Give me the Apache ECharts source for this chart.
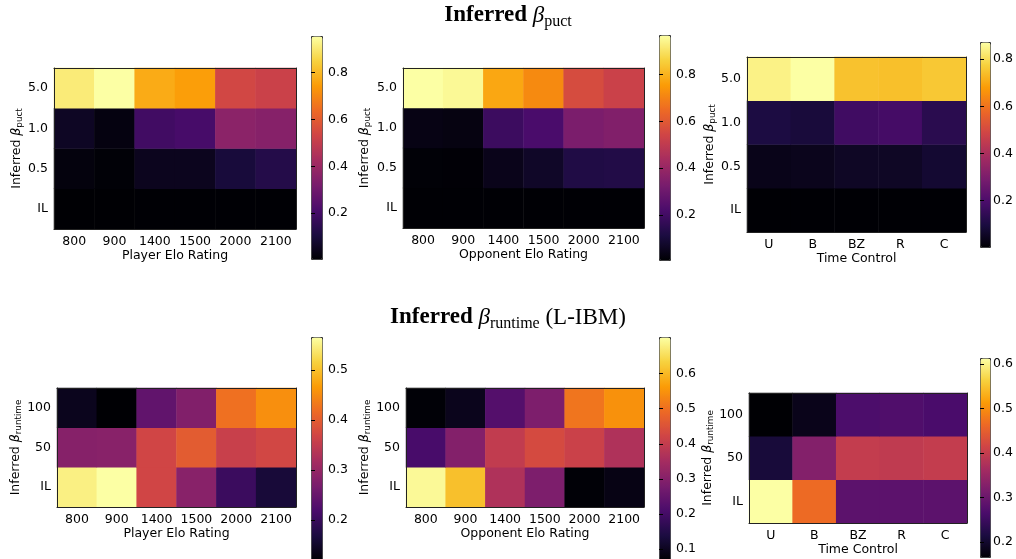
<!DOCTYPE html>
<html><head><meta charset="utf-8">
<script src="https://cdn.jsdelivr.net/npm/echarts@6/dist/echarts.min.js"></script>
<style>html,body{margin:0;padding:0;background:#fff}#c{width:1016px;height:559px}</style>
</head><body><div id="c"></div>
<script>
// ---- categories ----
const eloCats = ['800', '900', '1400', '1500', '2000', '2100'];
const timeCats = ['U', 'B', 'BZ', 'R', 'C'];
const puctCats = ['IL', '0.5', '1.0', '5.0'];     // bottom -> top
const runtimeCats = ['IL', '50', '100'];          // bottom -> top

// ---- values (rows follow the y categories, bottom -> top) ----
const puctPlayer = [
  [0.005, 0.005, 0.006, 0.006, 0.006, 0.006],
  [0.020, 0.010, 0.050, 0.050, 0.100, 0.130],
  [0.060, 0.025, 0.195, 0.210, 0.366, 0.355],
  [0.910, 0.955, 0.775, 0.750, 0.540, 0.520]
];
const puctOpponent = [
  [0.008, 0.008, 0.008, 0.008, 0.008, 0.008],
  [0.012, 0.010, 0.045, 0.070, 0.125, 0.130],
  [0.035, 0.030, 0.190, 0.220, 0.335, 0.350],
  [0.970, 0.955, 0.780, 0.720, 0.565, 0.530]
];
const puctTime = [
  [0.003, 0.003, 0.003, 0.003, 0.003],
  [0.035, 0.040, 0.055, 0.055, 0.075],
  [0.100, 0.090, 0.175, 0.185, 0.130],
  [0.845, 0.873, 0.750, 0.745, 0.760]
];
const runtimePlayer = [
  [0.550, 0.566, 0.370, 0.287, 0.205, 0.165],
  [0.285, 0.287, 0.370, 0.400, 0.360, 0.372],
  [0.142, 0.122, 0.245, 0.280, 0.425, 0.455]
];
const runtimeOpponent = [
  [0.695, 0.612, 0.370, 0.290, 0.075, 0.090],
  [0.210, 0.300, 0.400, 0.435, 0.415, 0.370],
  [0.075, 0.100, 0.227, 0.290, 0.510, 0.550]
];
const runtimeTime = [
  [0.613, 0.465, 0.285, 0.285, 0.285],
  [0.210, 0.327, 0.400, 0.396, 0.400],
  [0.166, 0.184, 0.268, 0.272, 0.265]
];

// ---- colorbar ranges and ticks ----
const puctPlayerRange = [0.005, 0.955];
const puctOpponentRange = [0.007, 0.970];
const puctTimeRange = [0.002, 0.873];
const runtimePlayerRange = [0.122, 0.566];
const runtimeOpponentRange = [0.072, 0.704];
const runtimeTimeRange = [0.166, 0.613];
const puctTicks = [0.2, 0.4, 0.6, 0.8];
const runtimePlayerTicks = [0.2, 0.3, 0.4, 0.5];
const runtimeOpponentTicks = [0.1, 0.2, 0.3, 0.4, 0.5, 0.6];
const runtimeTimeTicks = [0.2, 0.3, 0.4, 0.5, 0.6];

const inferno = ['#000004','#1b0c41','#4a0c6b','#781c6d','#a52c60','#cf4446','#ed6925','#fb9b06','#f7d13d','#fcffa4'];
const FONT = 'DejaVu Sans';
const FS = 12.5;

const panels = [
  {x: eloCats, y: puctCats, v: puctPlayer, xName: 'Player Elo Rating', sub: 'puct',
   g: {left: 54, top: 68, width: 242, height: 161}, xGap: 19, yGap: 30,
   cb: {left: 311, top: 36, width: 11, height: 223}, r: puctPlayerRange, t: puctTicks},
  {x: eloCats, y: puctCats, v: puctOpponent, xName: 'Opponent Elo Rating', sub: 'puct',
   g: {left: 403, top: 68, width: 241, height: 160}, xGap: 19, yGap: 31,
   cb: {left: 659, top: 35, width: 11, height: 225}, r: puctOpponentRange, t: puctTicks},
  {x: timeCats, y: puctCats, v: puctTime, xName: 'Time Control', sub: 'puct',
   g: {left: 747, top: 57, width: 219, height: 175}, xGap: 17, yGap: 27,
   cb: {left: 980, top: 42, width: 10, height: 205}, r: puctTimeRange, t: puctTicks},
  {x: eloCats, y: runtimeCats, v: runtimePlayer, xName: 'Player Elo Rating', sub: 'runtime',
   g: {left: 57, top: 388, width: 239, height: 119}, xGap: 19, yGap: 33,
   cb: {left: 311, top: 337, width: 11, height: 223}, r: runtimePlayerRange, t: runtimePlayerTicks},
  {x: eloCats, y: runtimeCats, v: runtimeOpponent, xName: 'Opponent Elo Rating', sub: 'runtime',
   g: {left: 406, top: 388, width: 238, height: 119}, xGap: 19, yGap: 32,
   cb: {left: 659, top: 337, width: 11, height: 223}, r: runtimeOpponentRange, t: runtimeOpponentTicks},
  {x: timeCats, y: runtimeCats, v: runtimeTime, xName: 'Time Control', sub: 'runtime',
   g: {left: 749, top: 393, width: 218, height: 130}, xGap: 17, yGap: 29,
   cb: {left: 980, top: 358, width: 10, height: 199}, r: runtimeTimeRange, t: runtimeTimeTicks}
];

const txt = {color: '#000', fontFamily: FONT, fontSize: FS};
const nameRich = {
  a: {fontFamily: FONT, fontSize: FS, color: '#000'},
  g: {fontFamily: FONT, fontSize: FS, fontStyle: 'italic', color: '#000'},
  s: {fontFamily: FONT, fontSize: 8.8, color: '#000', padding: [6, 0, 0, 0]}
};
const frameLine = {show: true, lineStyle: {color: '#222', width: 1}};

const grid = [], xAxis = [], yAxis = [], series = [], visualMap = [];
panels.forEach((p, i) => {
  const gi = grid.length;
  grid.push(Object.assign({containLabel: false}, p.g));
  grid.push(Object.assign({containLabel: false}, p.cb));
  const xi = xAxis.length, yi = yAxis.length;
  xAxis.push({type: 'category', gridIndex: gi, data: p.x, position: 'bottom', z: 10,
    axisLine: frameLine, axisTick: {alignWithLabel: true, interval: 0, length: 4, lineStyle: {color: '#000'}},
    axisLabel: Object.assign({margin: 6, interval: 0, hideOverlap: false}, txt), splitLine: {show: false},
    name: p.xName, nameLocation: 'middle', nameGap: p.xGap, nameTextStyle: txt});
  xAxis.push({type: 'category', gridIndex: gi, data: p.x, position: 'top', z: 10,
    axisLine: frameLine, axisTick: {show: false}, axisLabel: {show: false}, splitLine: {show: false}});
  xAxis.push({type: 'value', gridIndex: gi + 1, show: false, min: 0, max: 1});
  yAxis.push({type: 'category', gridIndex: gi, data: p.y, position: 'left', z: 10,
    axisLine: frameLine, axisTick: {alignWithLabel: true, interval: 0, length: 4, lineStyle: {color: '#000'}},
    axisLabel: Object.assign({margin: 6, interval: 0}, txt), splitLine: {show: false},
    name: '{a|Inferred }{g|β}{s|' + p.sub + '}', nameLocation: 'middle', nameGap: p.yGap,
    nameTextStyle: {rich: nameRich}});
  yAxis.push({type: 'category', gridIndex: gi, data: p.y, position: 'right', z: 10,
    axisLine: frameLine, axisTick: {show: false}, axisLabel: {show: false}, splitLine: {show: false}});
  yAxis.push({type: 'value', gridIndex: gi + 1, position: 'right', min: p.r[0], max: p.r[1], z: 10,
    axisLine: {show: false}, splitLine: {show: false},
    axisTick: {show: true, length: 4, lineStyle: {color: '#000'}, customValues: p.t},
    axisLabel: Object.assign({margin: 6, customValues: p.t, formatter: v => v.toFixed(1)}, txt)});
  const data = [];
  p.v.forEach((row, r) => row.forEach((val, c) => data.push([c, r, val])));
  series.push({type: 'heatmap', xAxisIndex: xi, yAxisIndex: yi, data: data,
    itemStyle: {borderWidth: 0}, emphasis: {disabled: true}, silent: true});
  visualMap.push({type: 'continuous', seriesIndex: i, min: p.r[0], max: p.r[1],
    inRange: {color: inferno}, calculable: false, orient: 'vertical',
    left: p.cb.left, top: p.cb.top, itemWidth: p.cb.width, itemHeight: p.cb.height,
    padding: 0, borderColor: '#333', borderWidth: 1, hoverLink: false, text: null});
});

const titleRich = {
  b: {fontFamily: 'Liberation Serif', fontWeight: 'bold', fontSize: 23, color: '#000'},
  g: {fontFamily: 'Liberation Serif', fontWeight: 'normal', fontStyle: 'italic', fontSize: 23, color: '#000'},
  s: {fontFamily: 'Liberation Serif', fontWeight: 'normal', fontSize: 16, color: '#000', padding: [13, 0, 0, 0]},
  n: {fontFamily: 'Liberation Serif', fontWeight: 'normal', fontSize: 23, color: '#000'}
};
const option = {
  animation: false,
  backgroundColor: '#fff',
  title: [
    {text: '{b|Inferred }{g|β}{s|puct}', left: 'center', top: 1, padding: 0,
     textStyle: {fontWeight: 'normal', rich: titleRich}},
    {text: '{b|Inferred }{g|β}{s|runtime}{n| (L-IBM)}', left: 'center', top: 303, padding: 0,
     textStyle: {fontWeight: 'normal', rich: titleRich}}
  ],
  grid, xAxis, yAxis, series, visualMap
};
const chart = echarts.init(document.getElementById('c'), null, {renderer: 'canvas'});
chart.setOption(option);
</script></body></html>
